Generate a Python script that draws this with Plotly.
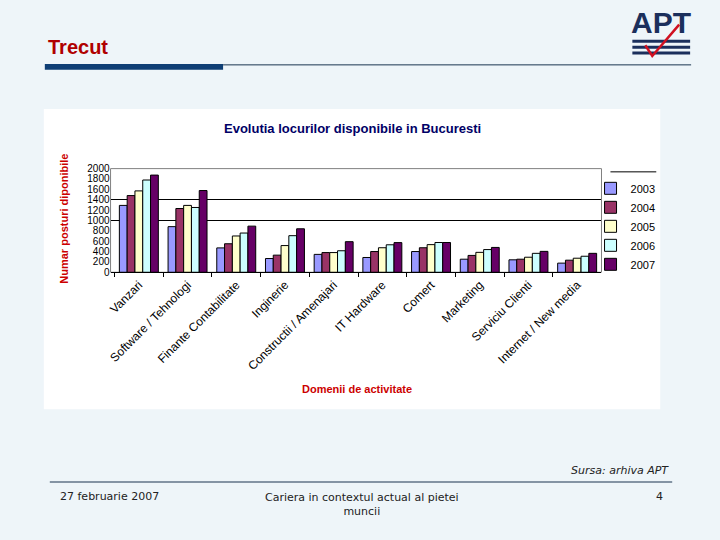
import plotly.graph_objects as go

# date
domenii = ['Vanzari', 'Software / Tehnologi', 'Finante Contabilitate', 'Inginerie',
           'Constructii / Amenajari', 'IT Hardware', 'Comert', 'Marketing',
           'Serviciu Clienti', 'Internet / New media']
ani = ['2003', '2004', '2005', '2006', '2007']
v2003 = [1290, 880, 470, 265, 345, 285, 400, 252, 240, 176]
v2004 = [1480, 1230, 550, 330, 380, 400, 473, 325, 252, 233]
v2005 = [1570, 1290, 700, 515, 380, 473, 533, 384, 290, 271]
v2006 = [1780, 1250, 757, 706, 415, 530, 574, 438, 365, 309]
v2007 = [1875, 1577, 890, 839, 590, 572, 574, 479, 403, 365]
valori = [v2003, v2004, v2005, v2006, v2007]
culori = ['#9999FF', '#993366', '#FFFFCC', '#CCFFFF', '#660066']

y_ticks = list(range(0, 2001, 200))
linii_grila = [1000, 1400]

W, H = 720, 540


def px(x):
    return x / W


def py(y):
    return 1 - y / H


fig = go.Figure()
for an, vals, cul in zip(ani, valori, culori):
    fig.add_trace(go.Bar(
        x=domenii, y=vals, name=an,
        marker=dict(color=cul, line=dict(color='black', width=1)),
    ))
# urma invizibila ca sa apara axa cu etichete (y2)
fig.add_trace(go.Scatter(x=domenii[:1], y=[0], yaxis='y2', mode='markers',
                         marker=dict(opacity=0), showlegend=False, hoverinfo='skip'))

font_grafic = 'Liberation Sans, Arial, sans-serif'
font_slide = 'DejaVu Sans, sans-serif'
fundal = '#EEF5F9'

shapes = [
    # panoul alb al graficului
    dict(type='rect', xref='paper', yref='paper', layer='below',
         x0=px(41), x1=px(660), y0=py(412), y1=py(106),
         fillcolor='white', line=dict(width=0)),
    # chenarul zonei de desen
    dict(type='rect', xref='x domain', yref='y domain', layer='below',
         x0=0, x1=1, y0=0, y1=1, line=dict(color='#808080', width=1)),
    # linie deasupra legendei
    dict(type='line', xref='paper', yref='paper',
         x0=px(610), x1=px(656), y0=py(170), y1=py(170),
         line=dict(color='black', width=1)),
    # bara titlului
    dict(type='rect', xref='paper', yref='paper',
         x0=px(42), x1=px(221), y0=py(66), y1=py(60),
         fillcolor='#0F3F75', line=dict(width=0)),
    dict(type='line', xref='paper', yref='paper',
         x0=px(221), x1=px(691), y0=py(61), y1=py(61),
         line=dict(color='#1A3550', width=1)),
    # linia de subsol
    dict(type='line', xref='paper', yref='paper',
         x0=px(47), x1=px(672), y0=py(486), y1=py(486),
         line=dict(color='#1A3550', width=1.2)),
]
# sigla APT: dungi si bifa
for yy in [37, 43, 49]:
    shapes.append(dict(type='line', xref='paper', yref='paper',
                       x0=px(632), x1=px(690), y0=py(yy), y1=py(yy),
                       line=dict(color='#1B2F5C', width=3)))
shapes.append(dict(type='path', xref='paper', yref='paper',
                   path='M {} {} L {} {} L {} {}'.format(px(645), py(41), px(652), py(52), px(679), py(20)),
                   line=dict(color='#D01020', width=2.5)))

annotations = [
    dict(text='<b>Trecut</b>', x=px(43), y=py(43), xanchor='left', yanchor='middle',
         font=dict(family=font_grafic, size=20, color='#B00000')),
    dict(text='<b>APT</b>', x=px(661), y=py(18), xanchor='center', yanchor='middle',
         font=dict(family=font_grafic, size=30, color='#1B2F5C')),
    dict(text='<b>Evolutia locurilor disponibile in Bucuresti</b>', x=px(351), y=py(126),
         xanchor='center', yanchor='middle',
         font=dict(family=font_grafic, size=13, color='#000066')),
    dict(text='<b>Numar posturi diponibile</b>', x=px(61), y=py(218), textangle=-90,
         xanchor='center', yanchor='middle',
         font=dict(family=font_grafic, size=11, color='#CC0000')),
    dict(text='<b>Domenii de activitate</b>', x=px(355), y=py(391),
         xanchor='center', yanchor='middle',
         font=dict(family=font_grafic, size=11, color='#CC0000')),
    dict(text='<i>Sursa: arhiva APT</i>', x=px(671), y=py(474), xanchor='right', yanchor='middle',
         font=dict(family=font_slide, size=11, color='#222222')),
    dict(text='27 februarie 2007', x=px(55), y=py(501), xanchor='left', yanchor='middle',
         font=dict(family=font_slide, size=11, color='#222222')),
    dict(text='Cariera in contextul actual al pietei<br>muncii', x=px(360), y=py(509),
         xanchor='center', yanchor='middle', align='center',
         font=dict(family=font_slide, size=11, color='#222222')),
    dict(text='4', x=px(665), y=py(501), xanchor='right', yanchor='middle',
         font=dict(family=font_slide, size=11, color='#222222')),
]
for a in annotations:
    a.update(xref='paper', yref='paper', showarrow=False)

fig.update_layout(
    width=W, height=H,
    margin=dict(l=0, r=0, t=0, b=0),
    paper_bgcolor=fundal,
    plot_bgcolor='#C0C0C0',
    barmode='group',
    bargap=0.2,
    bargroupgap=0,
    font=dict(family=font_grafic, size=11, color='black'),
    xaxis=dict(
        domain=[px(108), px(601)],
        tickangle=-45,
        tickfont=dict(size=12),
        showline=True, linecolor='black', linewidth=1,
        ticks='outside', ticklen=4, tickcolor='black', tickson='boundaries',
        showgrid=False,
    ),
    yaxis=dict(
        domain=[py(272.3), py(166.7)],
        range=[0, 2000],
        tickvals=linii_grila,
        showticklabels=False,
        showgrid=True, gridcolor='black', gridwidth=1,
        zeroline=False,
    ),
    yaxis2=dict(
        overlaying='y',
        side='left',
        range=[0, 2000],
        tickvals=y_ticks,
        tickfont=dict(size=10),
        showgrid=False,
        zeroline=False,
        ticks='',
    ),
    legend=dict(
        x=px(590), y=py(172), xanchor='left', yanchor='top',
        bgcolor='rgba(0,0,0,0)',
        font=dict(size=11),
        itemwidth=30,
    ),
    shapes=shapes,
    annotations=annotations,
)

fig.write_html(
    'out.html',
    config={'displayModeBar': False},
    post_script="document.body.style.margin='0';document.body.style.background='" + fundal + "';",
)
